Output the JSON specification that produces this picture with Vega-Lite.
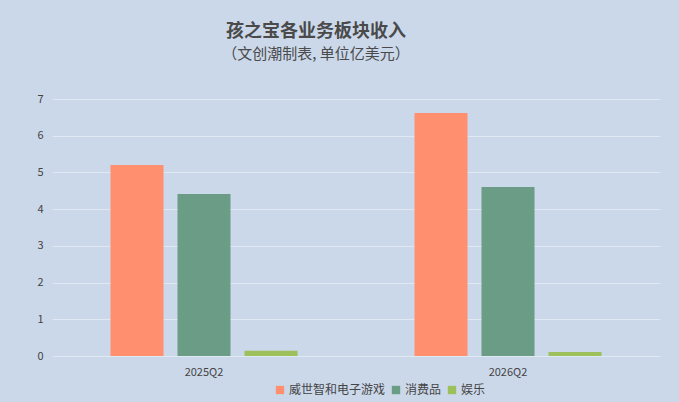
{
  "$schema": "https://vega.github.io/schema/vega-lite/v6.json",
  "width": 608,
  "height": 257,
  "autosize": {"type": "none"},
  "padding": {"left": 52, "top": 99, "right": 19, "bottom": 46},
  "background": "#cbd8ea",
  "title": {
    "text": "孩之宝各业务板块收入",
    "subtitle": "（文创潮制表, 单位亿美元）",
    "anchor": "middle",
    "dx": -40,
    "offset": 31,
    "font": "Noto Sans CJK SC",
    "fontSize": 18,
    "fontWeight": "bold",
    "color": "#4a4a4a",
    "subtitleFont": "Noto Sans CJK SC",
    "subtitleFontSize": 15,
    "subtitleFontWeight": "normal",
    "subtitleColor": "#4a4a4a",
    "subtitlePadding": 6
  },
  "data": {
    "values": [
      {"quarter": "2025Q2", "segment": "威世智和电子游戏", "revenue": 5.2},
      {"quarter": "2025Q2", "segment": "消费品", "revenue": 4.41},
      {"quarter": "2025Q2", "segment": "娱乐", "revenue": 0.14},
      {"quarter": "2026Q2", "segment": "威世智和电子游戏", "revenue": 6.62},
      {"quarter": "2026Q2", "segment": "消费品", "revenue": 4.6},
      {"quarter": "2026Q2", "segment": "娱乐", "revenue": 0.11}
    ]
  },
  "mark": {"type": "bar"},
  "encoding": {
    "x": {
      "field": "quarter",
      "type": "nominal",
      "scale": {"paddingInner": 0, "paddingOuter": 0},
      "axis": {
        "title": null,
        "labelAngle": 0,
        "domain": false,
        "ticks": false,
        "labelPadding": 10,
        "labelFontSize": 11,
        "labelColor": "#444444",
        "labelFont": "Noto Sans CJK SC"
      }
    },
    "xOffset": {
      "field": "segment",
      "type": "nominal",
      "sort": ["威世智和电子游戏", "消费品", "娱乐"],
      "scale": {"paddingInner": 0.209, "paddingOuter": 0.873}
    },
    "y": {
      "field": "revenue",
      "type": "quantitative",
      "scale": {"domain": [0, 7]},
      "axis": {
        "title": null,
        "tickCount": 7,
        "domain": false,
        "ticks": false,
        "labelPadding": 9,
        "labelFontSize": 11,
        "labelColor": "#444444",
        "labelFont": "Noto Sans CJK SC",
        "gridColor": "#f2f5fa",
        "gridOpacity": 0.55
      }
    },
    "color": {
      "field": "segment",
      "type": "nominal",
      "sort": ["威世智和电子游戏", "消费品", "娱乐"],
      "scale": {
        "domain": ["威世智和电子游戏", "消费品", "娱乐"],
        "range": ["#ff8f6e", "#6a9c86", "#9dc05a"]
      },
      "legend": {
        "title": null,
        "orient": "none",
        "direction": "horizontal",
        "legendX": 222,
        "legendY": 285,
        "symbolType": "square",
        "symbolSize": 70,
        "symbolStrokeWidth": 0,
        "labelFontSize": 12,
        "labelColor": "#444444",
        "labelFont": "Noto Sans CJK SC",
        "labelOffset": 3,
        "columnPadding": 4
      }
    }
  },
  "config": {
    "view": {"stroke": null}
  }
}
